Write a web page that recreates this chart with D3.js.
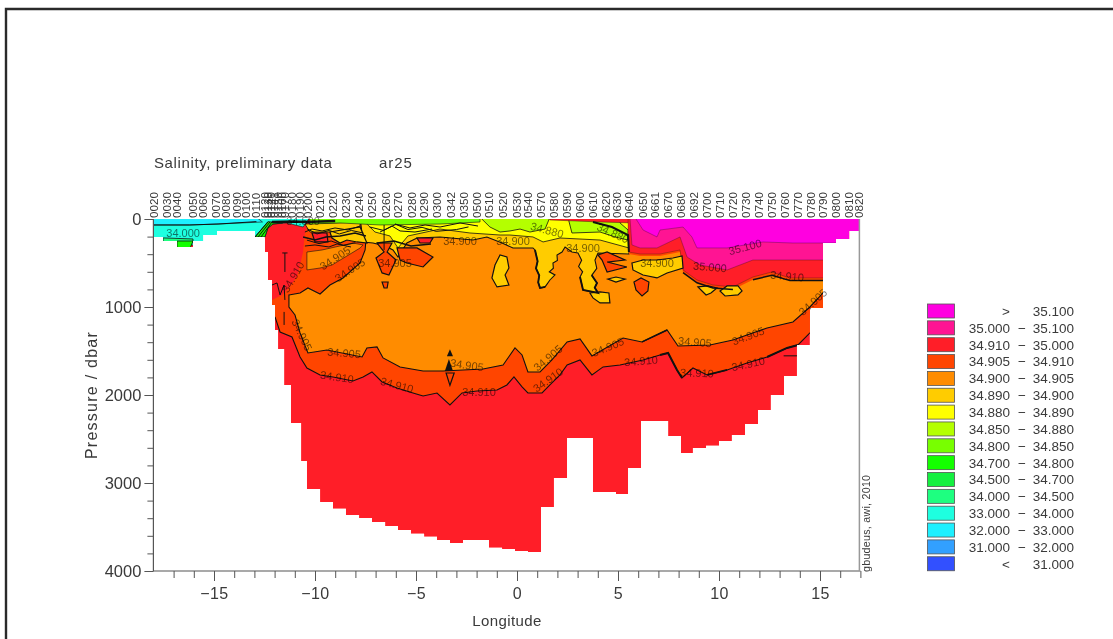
<!DOCTYPE html>
<html><head><meta charset="utf-8">
<script src="https://cdn.jsdelivr.net/npm/d3@7"></script>
<style>
html,body{margin:0;padding:0;background:#fff}
svg{display:block;filter:blur(.3px)}
text{font-family:"Liberation Sans",Arial,sans-serif;fill:#3a3a3a}
</style></head><body>
<svg id="c" width="1113" height="639"></svg>
<script>
// ---------- DATA ----------
const titleText = "Salinity, preliminary data";
const cruiseText = "ar25";
const creditText = "gbudeus, awi, 2010";
const xMajorTicks = [-15,-10,-5,0,5,10,15];
const xMinorTicks = d3.range(-17,18);
const yMajorTicks = [0,1000,2000,3000,4000];
const yMinorTicks = d3.range(0,4001,200);

const stationIds = ["0020","0030","0040","0050","0060","0070","0080","0090","0100","0110","0120","0130","0140","0141","0150","0160","0170","0180","0190","0200","0210","0220","0230","0240","0250","0260","0270","0280","0290","0300","0342","0350","0500","0510","0520","0530","0540","0570","0580","0590","0600","0610","0620","0630","0640","0650","0661","0670","0680","0692","0700","0710","0720","0730","0740","0750","0760","0770","0780","0790","0800","0810","0820"];
const stationLon = [-17.97,-17.33,-16.83,-16.04,-15.54,-14.90,-14.41,-13.86,-13.42,-12.92,-12.48,-12.33,-12.18,-12.03,-11.83,-11.63,-11.49,-11.14,-10.74,-10.35,-9.75,-9.11,-8.47,-7.82,-7.18,-6.49,-5.89,-5.20,-4.60,-3.96,-3.27,-2.62,-1.98,-1.39,-0.69,0,0.54,1.19,1.83,2.48,3.12,3.76,4.41,4.95,5.54,6.24,6.83,7.48,8.12,8.76,9.41,10.05,10.69,11.34,11.98,12.62,13.27,13.91,14.55,15.15,15.79,16.44,16.93];

// sea-floor steps: western edge of each cast cell and its deepest pressure
const floorLon = [-18,-17.52,-16.83,-16.04,-15.54,-14.85,-12.97,-12.48,-12.33,-12.13,-11.98,-11.83,-11.53,-11.19,-10.69,-10.40,-9.75,-9.11,-8.47,-7.82,-7.18,-6.53,-5.89,-5.25,-4.60,-3.96,-3.32,-2.67,-1.39,-0.74,-0.10,0.54,1.19,1.83,2.48,3.76,4.90,5.50,6.14,7.48,8.12,8.71,9.36,10.0,10.64,11.29,11.93,12.57,13.22,13.86,14.50,15.15,15.79,16.44,16.93];
const floorP =   [204,250,318,250,182,136,204,375,693,977,1261,1477,1886,2317,2749,3067,3215,3294,3363,3397,3442,3488,3533,3578,3612,3647,3681,3647,3737,3749,3772,3783,3272,2942,2488,3101,3124,2829,2295,2465,2658,2601,2578,2522,2454,2329,2170,1999,1784,1431,1011,273,227,136,136];

// colour classes
const legendLow  = [">","35.000","34.910","34.905","34.900","34.890","34.880","34.850","34.800","34.700","34.500","34.000","33.000","32.000","31.000","<"];
const legendHigh = ["35.100","35.100","35.000","34.910","34.905","34.900","34.890","34.880","34.850","34.800","34.700","34.500","34.000","33.000","32.000","31.000"];
const legendColors = ["#ff00e0","#ff1493","#ff1e28","#ff4500","#ff8c00","#ffcc00","#ffff00","#b4ff00","#78ff00","#14ff00","#14f040","#1eff80","#1effe0","#1ef0ff","#32a0ff","#3250ff"];

// regions: [lon, pressure]
const west33 = [[-18,-20],[-10.25,-20],[-10.59,91],[-11.39,45],[-12.08,57],[-12.33,102],[-12.48,204],[-12.72,295],[-18,295]];
const west32 = [[-18,-20],[-12.9,-20],[-12.6,34],[-14.8,57],[-16.2,68],[-18,68]];
const west34 = [[-17.52,215],[-16.04,227],[-16.04,270],[-16.83,270],[-17.52,270]];
const west347 = [[-16.83,250],[-16.04,250],[-16.2,340],[-16.83,340]];
const westFan = [[-12.97,204],[-12.48,204],[-12.33,102],[-12.08,57],[-11.6,45],[-12.33,30]];
const band905 = [[-12.13,920],[-11.63,863],[-11.39,807],[-10.89,659],[-10.59,375],[-10.50,159],[-10.25,-20],[15.5,-20],[15.5,1147],[14.50,1295],[13.91,1431],[13.37,1465],[12.38,1568],[11.39,1636],[10.40,1715],[9.41,1772],[8.71,1693],[8.17,1806],[7.92,1715],[7.48,1522],[7.08,1545],[6.24,1602],[5.10,1659],[4.26,1681],[3.71,1772],[3.12,1602],[2.48,1659],[2.13,1772],[1.63,1886],[1.24,1977],[0.54,1977],[0.25,1908],[-0.15,1795],[-0.50,1886],[-0.99,1943],[-1.98,1954],[-2.72,1977],[-3.32,2113],[-3.96,1977],[-4.65,2011],[-5.15,1977],[-5.94,1920],[-6.68,1852],[-7.18,1738],[-7.62,1795],[-8.12,1840],[-9.11,1795],[-9.75,1772],[-10.40,1693],[-10.74,1568],[-11.14,1340],[-11.73,1284],[-11.98,1113],[-12.13,1034]];
const band900 = [[-11.29,863],[-10.74,841],[-10.35,784],[-9.75,852],[-9.26,750],[-8.61,670],[-7.77,500],[-7.52,352],[-7.38,-20],[15.5,-20],[15.5,841],[15.15,841],[14.50,1000],[13.66,1170],[12.38,1238],[10.69,1375],[9.55,1431],[7.97,1443],[7.43,1261],[6.19,1397],[5.25,1352],[3.71,1556],[3.12,1363],[2.48,1397],[1.73,1602],[1.14,1738],[0.54,1738],[0.25,1545],[-0.10,1465],[-0.69,1659],[-1.68,1704],[-3.66,1727],[-4.65,1727],[-5.79,1681],[-6.63,1579],[-6.93,1454],[-7.43,1465],[-7.67,1568],[-9.41,1488],[-10.35,1522],[-10.74,1295],[-10.99,1091],[-11.29,1000]];
const tongue900 = [[-10.40,375],[-9.65,352],[-8.12,273],[-7.62,295],[-7.77,330],[-9.16,523],[-9.75,557],[-10.40,579]];
const band890 = [[-7.77,-20],[-7.62,261],[-7.13,273],[-6.53,307],[-6.14,352],[-5.89,432],[-5.45,273],[-4.95,216],[-3.81,204],[-2.18,239],[-1.49,204],[-0.74,273],[-0.20,329],[0.79,329],[0.89,352],[1.02,480],[0.94,560],[1.10,640],[1.05,720],[1.14,784],[1.39,772],[1.63,693],[1.88,636],[1.60,600],[1.80,560],[1.78,500],[2.0,470],[1.98,409],[2.23,375],[2.38,318],[2.72,375],[3.02,386],[3.20,470],[3.05,540],[3.25,600],[3.12,659],[3.27,807],[4.01,841],[3.85,780],[3.96,727],[3.70,640],[3.95,560],[3.86,466],[4.01,386],[5.54,398],[5.74,-20]];
const band880 = [[-7.77,-20],[-7.03,148],[-6.29,193],[-5.89,329],[-5.40,193],[-3.81,114],[-2.33,159],[-0.84,182],[-0.35,182],[0.79,204],[1.29,261],[2.13,216],[4.11,239],[5.54,329],[5.69,-20]];
const band850a = [[-1.83,-20],[-1.34,91],[-0.84,148],[-0.35,136],[0.15,114],[0.64,148],[1.39,114],[1.63,-20]];
const band850b = [[2.52,-20],[2.72,159],[4.11,148],[4.85,204],[5.50,239],[5.50,125],[5.10,45],[5.10,-20]];
const surface800 = [[-10.25,-20],[-1.83,-20],[-1.83,34],[-3.81,57],[-6.78,68],[-8.76,45],[-10.25,57]];
const surfaceRed = [[1.63,-20],[5.74,-20],[5.74,45],[4.11,34],[1.63,11]];
const westGold = [[-10.5,57],[-7.77,34],[-7.77,102],[-9.0,148],[-10.25,148]];
const eastThin = [[5.5,-20],[5.54,398],[6.09,420],[7.08,420],[8.07,375],[8.22,610],[8.91,725],[9.70,785],[10.69,800],[11.68,690],[12.62,640],[13.51,700],[15.15,700],[17,700],[17,-20]];
const eastRed = [[5.50,-20],[5.50,159],[5.54,375],[6.09,398],[7.08,398],[8.07,352],[8.22,579],[8.91,693],[9.70,750],[10.69,772],[11.68,659],[12.62,602],[13.51,670],[15.15,670],[17,670],[17,-20]];
const eastPink = [[5.59,-20],[5.69,295],[6.09,329],[6.93,329],[8.07,204],[8.42,432],[9.06,523],[10.40,579],[11.68,466],[15.15,466],[17,466],[17,-20]];
const eastMagenta = [[5.84,-20],[6.24,125],[6.93,204],[7.08,125],[8.22,91],[8.66,204],[8.91,329],[10.40,329],[12.18,261],[13.66,273],[15.15,273],[17,273],[17,-20]];

// isolated patches: [colour class index, points]
const patches = [
 [3,[[-6.93,273],[-6.19,273],[-6.43,375],[-5.99,466],[-6.34,636],[-6.68,613],[-6.98,443],[-6.58,375]]],
 [3,[[-5.94,329],[-4.95,329],[-4.16,432],[-4.65,545],[-5.45,500],[-5.79,466]]],
 [3,[[-6.68,716],[-6.38,716],[-6.43,784],[-6.58,784]]],
 [2,[[-4.95,216],[-4.16,216],[-4.31,273],[-4.80,273]]],
 [5,[[-9.26,148],[-7.77,91],[-7.43,273],[-7.92,261],[-8.42,239],[-8.76,273],[-9.16,216]]],
 [2,[[-10.15,159],[-9.41,159],[-9.36,261],[-10.0,261]]],
 [3,[[4.01,409],[4.46,375],[5.35,466],[4.46,489],[5.44,545],[4.46,602],[4.21,466]]],
 [5,[[5.69,500],[6.24,466],[6.93,466],[7.72,443],[8.17,420],[8.22,557],[7.43,613],[6.93,670],[6.24,636],[5.74,579]]],
 [3,[[5.79,716],[6.14,670],[6.53,716],[6.48,818],[6.19,875],[5.89,806]]],
 [5,[[4.50,682],[4.90,659],[5.35,682],[4.90,716]]],
 [5,[[8.96,772],[9.46,761],[9.90,784],[9.60,841],[9.36,863],[9.16,818]]],
 [5,[[10.05,818],[10.40,761],[10.94,761],[11.14,818],[10.94,863],[10.30,875]]],
 [5,[[3.61,841],[4.11,829],[4.55,841],[4.60,954],[4.11,954],[3.76,897]]],
 [5,[[-1.09,523],[-0.84,409],[-0.50,432],[-0.40,557],[-0.59,636],[-0.40,750],[-0.99,772],[-1.24,670]]],
 [3,[[-3.51,1750],[-3.11,1750],[-3.32,1890]]]
];
// solid black knots of tightly packed contours
const knots = [
 [[-3.47,1560],[-3.32,1480],[-3.17,1560]],
 [[-3.57,1727],[-3.37,1590],[-3.17,1727]]
];
// loose contour lines: [width, points]
const contourLines = [
 [1,[[-10.50,148],[-10.15,114],[-9.65,136],[-9.01,102],[-8.37,125],[-7.77,80]]],
 [1.6,[[-10.59,204],[-10.0,239],[-9.46,204],[-8.76,193],[-8.02,159],[-7.48,193]]],
 [1,[[-10.50,307],[-10.0,295],[-9.31,318],[-8.91,284],[-8.22,318]]],
 [1,[[-10.4,110],[-9.9,170],[-9.3,130],[-8.8,170],[-8.2,130],[-7.6,160]]],
 [1,[[-10.4,240],[-9.8,280],[-9.2,250],[-8.6,300],[-8.0,270]]],
 [1,[[-6.04,57],[-5.30,102],[-4.55,68],[-3.81,91],[-2.82,45],[-1.93,80]]],
 [1,[[-6.78,148],[-6.19,80],[-5.79,136],[-5.05,148],[-4.21,114]]],
 [1,[[-7.3,90],[-6.6,130],[-6.0,60],[-5.4,120],[-4.7,95],[-4.0,140],[-3.0,120],[-2.4,90]]],
 [1.5,[[-6.93,273],[-6.09,250],[-5.25,307],[-4.26,284]]],
 [1,[[-6.58,68],[-6.58,352]]],
 [1,[[-12.97,204],[-12.33,34]]],
 [1,[[-12.82,204],[-12.23,34]]],
 [1,[[-12.67,204],[-12.13,34]]],
 [1,[[-18,68],[-16.2,68],[-14.8,57],[-12.9,30]]],
 [2.5,[[-12.13,34],[-11.0,28],[-10.5,34],[-9.0,23]]],
 [2,[[3.76,34],[4.70,91],[5.50,182],[5.54,375]]],
 [1,[[13.2,1555],[14.3,1555]]],
 [2,[[12.38,1568],[13.37,1465],[13.91,1431]]],
 [2,[[7.08,1545],[7.48,1522],[7.92,1715],[8.17,1806]]],
 [1.8,[[9.41,1772],[10.40,1715]]],
 [1.5,[[7.43,1261],[6.19,1397]]],
 [1.9,[[0.89,352],[1.02,480],[0.94,560],[1.10,640],[1.05,720],[1.14,784],[1.39,772]]],
 [1.9,[[3.12,659],[3.27,807],[4.01,841],[3.85,780],[3.96,727],[3.70,640]]],
 [1,[[-12.13,750],[-11.88,727],[-11.73,863],[-11.53,750],[-11.49,920]]],
 [1,[[-11.53,1056],[-11.53,1204]]],
 [1,[[-11.49,386],[-11.49,602]]],
 [1,[[-11.62,386],[-11.36,386]]],
 [1.5,[[8.22,610],[8.91,725],[9.70,785],[10.69,800]]],
 [1.5,[[11.68,690],[12.62,640],[13.51,700],[15.15,700]]]
];
// contour labels
const contourText = ["34.000","34.500","34.905","34.905","34.910","34.905","34.900","34.900","34.880","34.900","34.880","34.900","35.100","35.000","34.910","34.905","34.905","34.905","34.905","34.910","34.910","34.910","34.905","34.910","34.905","34.910","34.905","34.910","34.905","34.910"];
const contourLon = [-16.53,-10.59,-9.01,-8.27,-11.09,-6.04,-2.82,-0.20,1.49,3.27,4.75,6.93,11.29,9.55,13.37,14.65,-10.64,-8.56,-2.48,-8.91,-5.94,-1.88,1.53,1.53,4.50,6.14,8.81,8.91,11.44,11.44];
const contourP = [159,23,443,579,659,500,250,250,125,329,159,500,318,545,648,943,1318,1522,1659,1795,1886,1965,1579,1829,1454,1613,1397,1749,1329,1647];
const contourAngle = [0,0,-33,-33,-60,0,0,0,15,0,25,0,-15,5,5,-42,65,5,8,8,15,0,-40,-35,-22,-5,5,2,-20,-12];

// ---------- DRAW ----------
const svg = d3.select("#c");
const x = d3.scaleLinear().domain([-18,17]).range([153.4,860.4]);
const y = d3.scaleLinear().domain([0,4000]).range([219,571]);
const C = Object.fromEntries(legendLow.map((d,i)=>[i,legendColors[i]]));
const poly = d3.line().x(d=>x(d[0])).y(d=>y(d[1])).curve(d3.curveLinearClosed);
const open = d3.line().x(d=>x(d[0])).y(d=>y(d[1]));
const floorData = floorLon.map((l,i)=>[l,floorP[i]]);
const floorArea = d3.area().x(d=>x(d[0])).y0(y(0)).y1(d=>y(d[1])).curve(d3.curveStepAfter);

// page frame
svg.append("path").attr("d","M1113,9H6V639").attr("fill","none").attr("stroke","#2a2a2a").attr("stroke-width",2.4);

svg.append("clipPath").attr("id","sec").append("path").attr("d",floorArea(floorData));
const g = svg.append("g").attr("clip-path","url(#sec)");
g.append("path").attr("d",floorArea(floorData)).attr("fill",C[2]);

// [points, colour class, outline width]
const layers = [
 [band905,3,0],[band900,4,1.1],[tongue900,4,0.6],
 [westGold,5,0.8],[band890,5,1.1],[band880,6,0.8],[band850a,7,0.8],[band850b,7,0.8],[surface800,8,0.6],
 [west33,12,0.6],[west32,13,0.6],[west34,11,0.8],[west347,9,0.8],[westFan,9,0.8],
 [surfaceRed,2,0.4],[eastThin,3,0],[eastRed,2,0.3],[eastPink,1,0.3],[eastMagenta,0,0.3]
];
g.selectAll("path.l").data(layers).join("path").attr("class","l")
 .attr("d",d=>poly(d[0])).attr("fill",d=>C[d[1]])
 .attr("stroke",d=>d[2]?"#111":"none").attr("stroke-width",d=>d[2]);
// the 34.910 contour is only inked along its lower reach
g.append("path").attr("d",open(band905.slice(8,53))).attr("fill","none").attr("stroke","#111").attr("stroke-width",1.1);
g.selectAll("path.p").data(patches).join("path").attr("class","p")
 .attr("d",d=>poly(d[1])).attr("fill",d=>C[d[0]]).attr("stroke","#111").attr("stroke-width",1.2);
g.selectAll("path.k").data(knots).join("path").attr("class","k")
 .attr("d",poly).attr("fill","#111");
g.selectAll("path.c").data(contourLines).join("path").attr("class","c")
 .attr("d",d=>open(d[1])).attr("fill","none").attr("stroke","#111").attr("stroke-width",d=>d[0]);

// contour labels
svg.selectAll("text.cl").data(contourText).join("text").attr("class","cl")
 .attr("transform",(d,i)=>`translate(${x(contourLon[i])},${y(contourP[i])}) rotate(${contourAngle[i]})`)
 .attr("text-anchor","middle").attr("dy","0.36em").attr("font-size",11)
 .style("fill","#000").style("opacity",0.55).text(d=>d);

// axes
const axisStyle = s=>{s.select(".domain").attr("stroke","#555").attr("stroke-width",1.2);s.selectAll("line").attr("stroke","#555").attr("stroke-width",1);s.selectAll("text").style("fill","#3a3a3a").style("font-family",'"Liberation Sans",Arial,sans-serif');};
svg.append("g").attr("transform",`translate(0,${y(4000)})`)
 .call(d3.axisBottom(x).tickValues(xMinorTicks).tickSize(7).tickFormat("")).call(axisStyle).call(s=>s.select(".domain").attr("d",`M${x(-18)},0H${x(17)}`));
svg.append("g").attr("transform",`translate(0,${y(4000)})`)
 .call(d3.axisBottom(x).tickValues(xMajorTicks).tickSize(10).tickPadding(7).tickSizeOuter(0)).call(axisStyle)
 .call(s=>{s.select(".domain").remove();s.selectAll("text").attr("font-size",16).attr("letter-spacing",0.4);});
svg.append("g").attr("transform",`translate(${x(-18)},0)`)
 .call(d3.axisLeft(y).tickValues(yMinorTicks).tickSize(6).tickFormat("")).call(axisStyle).call(s=>s.select(".domain").attr("d",`M0,${y(0)}V${y(4000)}`));
svg.append("g").attr("transform",`translate(${x(-18)},0)`)
 .call(d3.axisLeft(y).tickValues(yMajorTicks).tickSize(9).tickPadding(3).tickFormat(d3.format("d"))).call(axisStyle)
 .call(s=>{s.select(".domain").remove();s.selectAll("text").attr("font-size",16.5);});
svg.append("line").attr("x1",x(17)-1).attr("x2",x(17)-1).attr("y1",y(0)).attr("y2",y(4000)).attr("stroke","#999").attr("stroke-width",1.5);

// station labels
svg.selectAll("text.st").data(stationIds).join("text").attr("class","st")
 .attr("transform",(d,i)=>`translate(${x(stationLon[i])},218) rotate(-90)`)
 .attr("dy","0.36em").attr("font-size",11.7).text(d=>d);

// titles
svg.append("text").attr("x",154).attr("y",168).attr("font-size",15).attr("letter-spacing",0.62).text(titleText);
svg.append("text").attr("x",379).attr("y",168).attr("font-size",15).attr("letter-spacing",0.9).text(cruiseText);
svg.append("text").attr("x",507).attr("y",626).attr("text-anchor","middle").attr("font-size",15).attr("letter-spacing",0.4).text("Longitude");
svg.append("text").attr("transform","translate(97,395) rotate(-90)").attr("text-anchor","middle").attr("font-size",16).attr("letter-spacing",1.25).text("Pressure / dbar");
svg.append("text").attr("transform","translate(870,572) rotate(-90)").attr("font-size",10.6).attr("letter-spacing",0.3).text(creditText);

// legend
const lg = svg.selectAll("g.lg").data(legendColors).join("g").attr("class","lg").attr("transform",(d,i)=>`translate(0,${311+i*16.85})`);
lg.append("rect").attr("x",927.5).attr("y",-7).attr("width",27).attr("height",14).attr("fill",d=>d).attr("stroke","#555").attr("stroke-width",0.8);
lg.append("text").attr("x",1010).attr("dy","0.36em").attr("text-anchor","end").attr("font-size",13.5).text((d,i)=>legendLow[i]);
lg.filter((d,i)=>!/[<>]/.test(legendLow[i])).append("text").attr("x",1022).attr("dy","0.36em").attr("text-anchor","middle").attr("font-size",13.5).text("\u2212");
lg.append("text").attr("x",1074).attr("dy","0.36em").attr("text-anchor","end").attr("font-size",13.5).text((d,i)=>legendHigh[i]);
</script>
</body></html>
